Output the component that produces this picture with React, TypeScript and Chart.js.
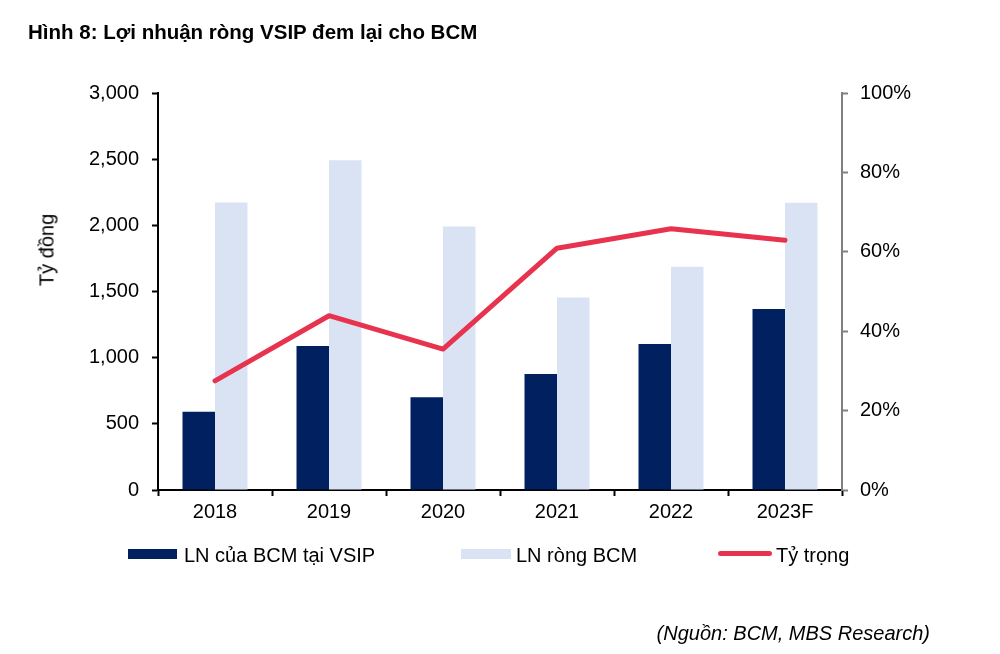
import React, { useEffect, useRef } from 'react';
import { Chart, registerables } from 'chart.js';

Chart.register(...registerables);

const YEARS = ['2018', '2019', '2020', '2021', '2022', '2023F'];
const LN_VSIP = [592, 1089, 701, 877, 1104, 1367];
const LN_RONG = [2173, 2491, 1992, 1455, 1687, 2171];
const TY_TRONG = [27.5, 43.9, 35.5, 60.9, 65.8, 62.9];

const FONT = "'Liberation Sans', Arial, sans-serif";
const DARK = '#002060';
const LIGHT = '#DAE3F3';
const RED = '#E8334F';

export default function App() {
    const chartRef = useRef<HTMLCanvasElement>(null);
    const chartInstance = useRef<Chart | null>(null);

    useEffect(() => {
        if (chartInstance.current) chartInstance.current.destroy();
        if (!chartRef.current) return;
        const ctx = chartRef.current.getContext('2d');
        if (!ctx) return;

        chartInstance.current = new Chart(ctx, {
            type: 'bar',
            data: {
                labels: YEARS,
                datasets: [
                    {
                        type: 'line',
                        label: 'Tỷ trọng',
                        data: TY_TRONG,
                        yAxisID: 'y1',
                        borderColor: RED,
                        borderWidth: 5,
                        borderCapStyle: 'round',
                        borderJoinStyle: 'round',
                        pointRadius: 0,
                        tension: 0,
                        order: 0,
                    },
                    {
                        label: 'LN của BCM tại VSIP',
                        data: LN_VSIP,
                        backgroundColor: DARK,
                        yAxisID: 'y',
                        order: 1,
                    },
                    {
                        label: 'LN ròng BCM',
                        data: LN_RONG,
                        backgroundColor: LIGHT,
                        yAxisID: 'y',
                        order: 2,
                    },
                ],
            },
            options: {
                responsive: true,
                maintainAspectRatio: false,
                animation: false,
                layout: { padding: { top: 93, left: 0, right: 0, bottom: 0 } },
                datasets: { bar: { categoryPercentage: 0.57, barPercentage: 1 } },
                plugins: {
                    legend: { display: false },
                    tooltip: { enabled: false },
                },
                scales: {
                    x: {
                        grid: { drawOnChartArea: false, drawTicks: true, tickLength: 6, tickColor: '#000', tickWidth: 2, offset: true },
                        border: { display: true, color: '#000', width: 2 },
                        ticks: { color: '#000', font: { family: FONT, size: 20 }, padding: 4 },
                        afterFit: (scale: any) => { scale.height = 164; },
                    },
                    y: {
                        position: 'left',
                        min: 0,
                        max: 3000,
                        grid: { drawOnChartArea: false, drawTicks: true, tickLength: 6, tickColor: '#000', tickWidth: 2 },
                        border: { display: true, color: '#000', width: 2 },
                        ticks: {
                            stepSize: 500,
                            color: '#000',
                            padding: 13,
                            font: { family: FONT, size: 20 },
                            callback: (v: any) => Number(v).toLocaleString('en-US'),
                        },
                        afterFit: (scale: any) => { scale.width = 158; },
                    },
                    y1: {
                        position: 'right',
                        min: 0,
                        max: 100,
                        grid: { drawOnChartArea: false, drawTicks: true, tickLength: 6, tickColor: '#808080', tickWidth: 2 },
                        border: { display: true, color: '#808080', width: 2 },
                        ticks: {
                            stepSize: 20,
                            color: '#000',
                            padding: 12,
                            font: { family: FONT, size: 20 },
                            callback: (v: any) => v + '%',
                        },
                        afterFit: (scale: any) => { scale.width = 158; },
                    },
                },
            },
        });

        return () => { if (chartInstance.current) chartInstance.current.destroy(); };
    }, []);

    const legendText: React.CSSProperties = {
        position: 'absolute', top: 545, fontSize: 20, lineHeight: '20px', whiteSpace: 'nowrap', color: '#000',
    };

    return (
        <div style={{ position: 'fixed', left: 0, top: 0, width: 1000, height: 654, background: '#fff', fontFamily: FONT, overflow: 'hidden' }}>
            <div style={{ position: 'absolute', left: 0, top: 0, width: 1000, height: 654 }}>
                <canvas ref={chartRef}></canvas>
            </div>
            <div style={{ position: 'absolute', left: 28, top: 20, fontSize: 20.5, lineHeight: '24px', fontWeight: 'bold', whiteSpace: 'nowrap' }}>
                Hình 8: Lợi nhuận ròng VSIP đem lại cho BCM
            </div>
            <div style={{ position: 'absolute', left: 47, top: 250, transform: 'translate(-50%, -50%) rotate(-90deg)', fontSize: 20, whiteSpace: 'nowrap' }}>
                Tỷ đồng
            </div>

            <div style={{ position: 'absolute', left: 128, top: 549, width: 49, height: 10, background: DARK }} />
            <div style={{ ...legendText, left: 184 }}>LN của BCM tại VSIP</div>
            <div style={{ position: 'absolute', left: 461, top: 549, width: 50, height: 10, background: LIGHT }} />
            <div style={{ ...legendText, left: 516 }}>LN ròng BCM</div>
            <div style={{ position: 'absolute', left: 718, top: 551, width: 54, height: 5, borderRadius: 3, background: RED }} />
            <div style={{ ...legendText, left: 776 }}>Tỷ trọng</div>

            <div style={{ position: 'absolute', right: 70, top: 622, fontSize: 20, fontStyle: 'italic', whiteSpace: 'nowrap' }}>
                (Nguồn: BCM, MBS Research)
            </div>
        </div>
    );
}
